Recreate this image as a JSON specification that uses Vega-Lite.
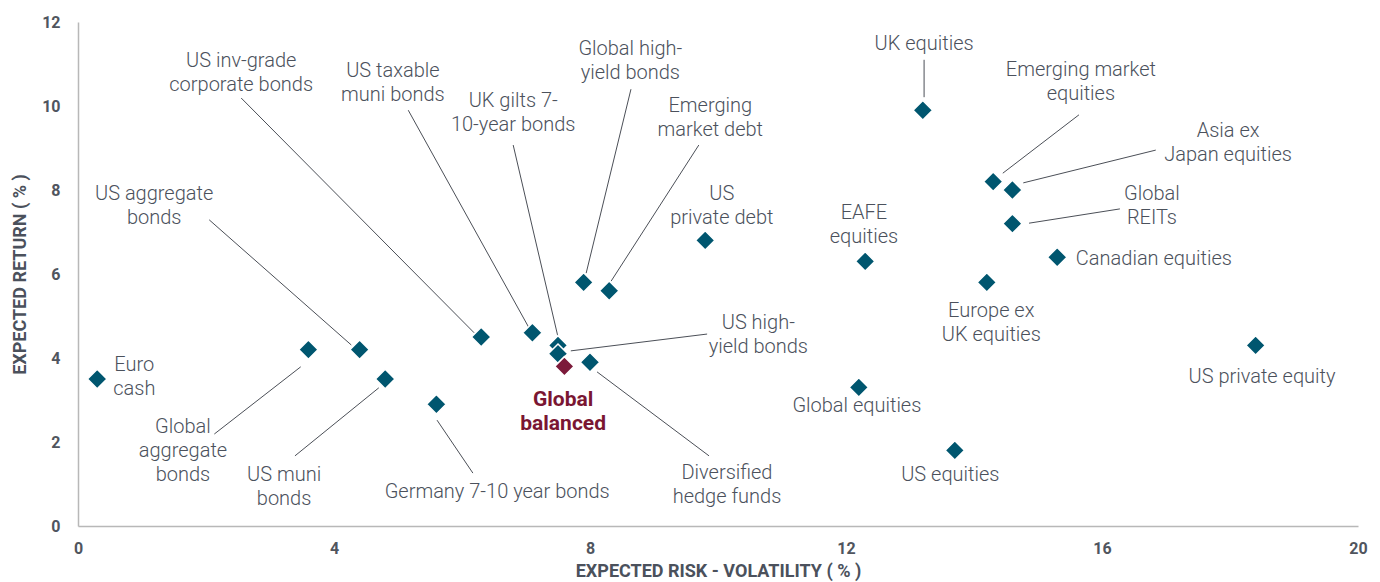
{
  "$schema": "https://vega.github.io/schema/vega-lite/v6.json",
  "width": 1280,
  "height": 504,
  "autosize": {"type": "none"},
  "padding": {"left": 78, "top": 22, "right": 22, "bottom": 56},
  "background": "white",
  "config": {
    "view": {"stroke": null},
    "axis": {
      "domainColor": "#b8b8b8",
      "domainWidth": 1.5,
      "ticks": false,
      "grid": false,
      "labelFont": "Roboto",
      "labelFontWeight": "bold",
      "labelFontSize": 16,
      "labelColor": "#50555e",
      "titleFont": "Roboto",
      "titleFontWeight": "bold",
      "titleFontSize": 18,
      "titleColor": "#4b515c",
      "labelFlush": false
    }
  },
  "data": {
    "values": [
      {"name": "Euro cash", "risk": 0.3, "ret": 3.5, "kind": "asset", "label": "Euro\ncash", "lx": 0.88, "ly": 3.83},
      {"name": "Global aggregate bonds", "risk": 3.6, "ret": 4.2, "kind": "asset", "label": "Global\naggregate\nbonds", "lx": 1.64, "ly": 2.36, "ax": 2.13, "ay": 2.19, "bx": 3.48, "by": 3.79},
      {"name": "US aggregate bonds", "risk": 4.4, "ret": 4.2, "kind": "asset", "label": "US aggregate\nbonds", "lx": 1.19, "ly": 7.9, "ax": 2.05, "ay": 7.29, "bx": 4.27, "by": 4.31},
      {"name": "US muni bonds", "risk": 4.8, "ret": 3.5, "kind": "asset", "label": "US muni\nbonds", "lx": 3.22, "ly": 1.21, "ax": 3.39, "ay": 1.67, "bx": 4.7, "by": 3.29},
      {"name": "Germany 7-10 year bonds", "risk": 5.6, "ret": 2.9, "kind": "asset", "label": "Germany 7-10 year bonds", "lx": 6.55, "ly": 0.81, "ax": 6.17, "ay": 1.26, "bx": 5.61, "by": 2.52},
      {"name": "US inv-grade corporate bonds", "risk": 6.3, "ret": 4.5, "kind": "asset", "label": "US inv-grade\ncorporate bonds", "lx": 2.55, "ly": 11.07, "ax": 2.55, "ay": 10.19, "bx": 6.19, "by": 4.6},
      {"name": "US taxable muni bonds", "risk": 7.1, "ret": 4.6, "kind": "asset", "label": "US taxable\nmuni bonds", "lx": 4.92, "ly": 10.83, "ax": 5.16, "ay": 9.9, "bx": 7.05, "by": 4.71},
      {"name": "UK gilts 7-10-year bonds", "risk": 7.5, "ret": 4.3, "kind": "asset", "label": "UK gilts 7-\n10-year bonds", "lx": 6.8, "ly": 10.12, "ax": 6.8, "ay": 9.07, "bx": 7.5, "by": 4.5},
      {"name": "US high-yield bonds", "risk": 7.5, "ret": 4.1, "kind": "asset", "label": "US high-\nyield bonds", "lx": 10.63, "ly": 4.83, "ax": 9.83, "ay": 4.57, "bx": 7.7, "by": 4.17},
      {"name": "Global balanced", "risk": 7.6, "ret": 3.8, "kind": "portfolio", "label": "Global\nbalanced", "lx": 7.58, "ly": 3.0},
      {"name": "Diversified hedge funds", "risk": 8.0, "ret": 3.9, "kind": "asset", "label": "Diversified\nhedge funds", "lx": 10.14, "ly": 1.26, "ax": 9.86, "ay": 1.67, "bx": 8.11, "by": 3.67},
      {"name": "Global high-yield bonds", "risk": 7.9, "ret": 5.8, "kind": "asset", "label": "Global high-\nyield bonds", "lx": 8.63, "ly": 11.36, "ax": 8.64, "ay": 10.4, "bx": 7.94, "by": 6.02},
      {"name": "Emerging market debt", "risk": 8.3, "ret": 5.6, "kind": "asset", "label": "Emerging\nmarket debt", "lx": 9.88, "ly": 10.0, "ax": 9.7, "ay": 9.07, "bx": 8.33, "by": 5.83},
      {"name": "US private debt", "risk": 9.8, "ret": 6.8, "kind": "asset", "label": "US\nprivate debt", "lx": 10.06, "ly": 7.9},
      {"name": "EAFE equities", "risk": 12.3, "ret": 6.3, "kind": "asset", "label": "EAFE\nequities", "lx": 12.28, "ly": 7.45},
      {"name": "Global equities", "risk": 12.2, "ret": 3.3, "kind": "asset", "label": "Global equities", "lx": 12.17, "ly": 2.86},
      {"name": "UK equities", "risk": 13.2, "ret": 9.9, "kind": "asset", "label": "UK equities", "lx": 13.22, "ly": 11.48, "ax": 13.22, "ay": 11.1, "bx": 13.22, "by": 10.21},
      {"name": "US equities", "risk": 13.7, "ret": 1.8, "kind": "asset", "label": "US equities", "lx": 13.63, "ly": 1.21},
      {"name": "Europe ex UK equities", "risk": 14.2, "ret": 5.8, "kind": "asset", "label": "Europe ex\nUK equities", "lx": 14.27, "ly": 5.12},
      {"name": "Emerging market equities", "risk": 14.3, "ret": 8.2, "kind": "asset", "label": "Emerging market\nequities", "lx": 15.67, "ly": 10.86, "ax": 15.64, "ay": 9.79, "bx": 14.45, "by": 8.4},
      {"name": "Asia ex Japan equities", "risk": 14.6, "ret": 8.0, "kind": "asset", "label": "Asia ex\nJapan equities", "lx": 17.97, "ly": 9.4, "ax": 16.84, "ay": 8.95, "bx": 14.77, "by": 8.17},
      {"name": "Global REITs", "risk": 14.6, "ret": 7.2, "kind": "asset", "label": "Global\nREITs", "lx": 16.78, "ly": 7.9, "ax": 16.28, "ay": 7.55, "bx": 14.86, "by": 7.21},
      {"name": "Canadian equities", "risk": 15.3, "ret": 6.4, "kind": "asset", "label": "Canadian equities", "lx": 16.81, "ly": 6.36},
      {"name": "US private equity", "risk": 18.4, "ret": 4.3, "kind": "asset", "label": "US private equity", "lx": 18.5, "ly": 3.55}
    ]
  },
  "layer": [
    {
      "transform": [{"filter": "isValid(datum.ax)"}],
      "mark": {"type": "rule", "color": "#4b4f57", "strokeWidth": 1},
      "encoding": {
        "x": {"field": "ax", "type": "quantitative", "scale": {"domain": [0, 20], "nice": false}, "axis": {"title": "EXPECTED RISK - VOLATILITY ( % )", "values": [0, 4, 8, 12, 16, 20], "labelPadding": 14, "titlePadding": 6}},
        "y": {"field": "ay", "type": "quantitative", "scale": {"domain": [0, 12], "nice": false}, "axis": {"title": "EXPECTED RETURN ( % )", "values": [0, 2, 4, 6, 8, 10, 12], "labelPadding": 18, "titlePadding": 12}},
        "x2": {"field": "bx"},
        "y2": {"field": "by"}
      }
    },
    {
      "mark": {"type": "point", "shape": "diamond", "filled": true, "size": 380, "stroke": "white", "strokeWidth": 1.5, "opacity": 1},
      "encoding": {
        "x": {"field": "risk", "type": "quantitative", "scale": {"domain": [0, 20], "nice": false}, "axis": {"title": "EXPECTED RISK - VOLATILITY ( % )", "values": [0, 4, 8, 12, 16, 20], "labelPadding": 14, "titlePadding": 6}},
        "y": {"field": "ret", "type": "quantitative", "scale": {"domain": [0, 12], "nice": false}, "axis": {"title": "EXPECTED RETURN ( % )", "values": [0, 2, 4, 6, 8, 10, 12], "labelPadding": 18, "titlePadding": 12}},
        "fill": {"field": "kind", "type": "nominal", "scale": {"domain": ["asset", "portfolio"], "range": ["#00566f", "#7c1a3a"]}, "legend": null}
      }
    },
    {
      "transform": [{"filter": "datum.kind == 'asset'"}],
      "mark": {"type": "text", "font": "Roboto", "fontWeight": 300, "fontSize": 20, "lineHeight": 24, "lineBreak": "\n", "align": "center", "baseline": "middle", "color": "#4b515c"},
      "encoding": {
        "x": {"field": "lx", "type": "quantitative", "scale": {"domain": [0, 20], "nice": false}, "axis": {"title": "EXPECTED RISK - VOLATILITY ( % )", "values": [0, 4, 8, 12, 16, 20], "labelPadding": 14, "titlePadding": 6}},
        "y": {"field": "ly", "type": "quantitative", "scale": {"domain": [0, 12], "nice": false}, "axis": {"title": "EXPECTED RETURN ( % )", "values": [0, 2, 4, 6, 8, 10, 12], "labelPadding": 18, "titlePadding": 12}},
        "text": {"field": "label"}
      }
    },
    {
      "transform": [{"filter": "datum.kind == 'portfolio'"}],
      "mark": {"type": "text", "font": "Roboto", "fontSize": 21, "fontWeight": "bold", "lineHeight": 24, "lineBreak": "\n", "align": "center", "baseline": "middle", "color": "#7a1632"},
      "encoding": {
        "x": {"field": "lx", "type": "quantitative", "scale": {"domain": [0, 20], "nice": false}, "axis": {"title": "EXPECTED RISK - VOLATILITY ( % )", "values": [0, 4, 8, 12, 16, 20], "labelPadding": 14, "titlePadding": 6}},
        "y": {"field": "ly", "type": "quantitative", "scale": {"domain": [0, 12], "nice": false}, "axis": {"title": "EXPECTED RETURN ( % )", "values": [0, 2, 4, 6, 8, 10, 12], "labelPadding": 18, "titlePadding": 12}},
        "text": {"field": "label"}
      }
    }
  ]
}
